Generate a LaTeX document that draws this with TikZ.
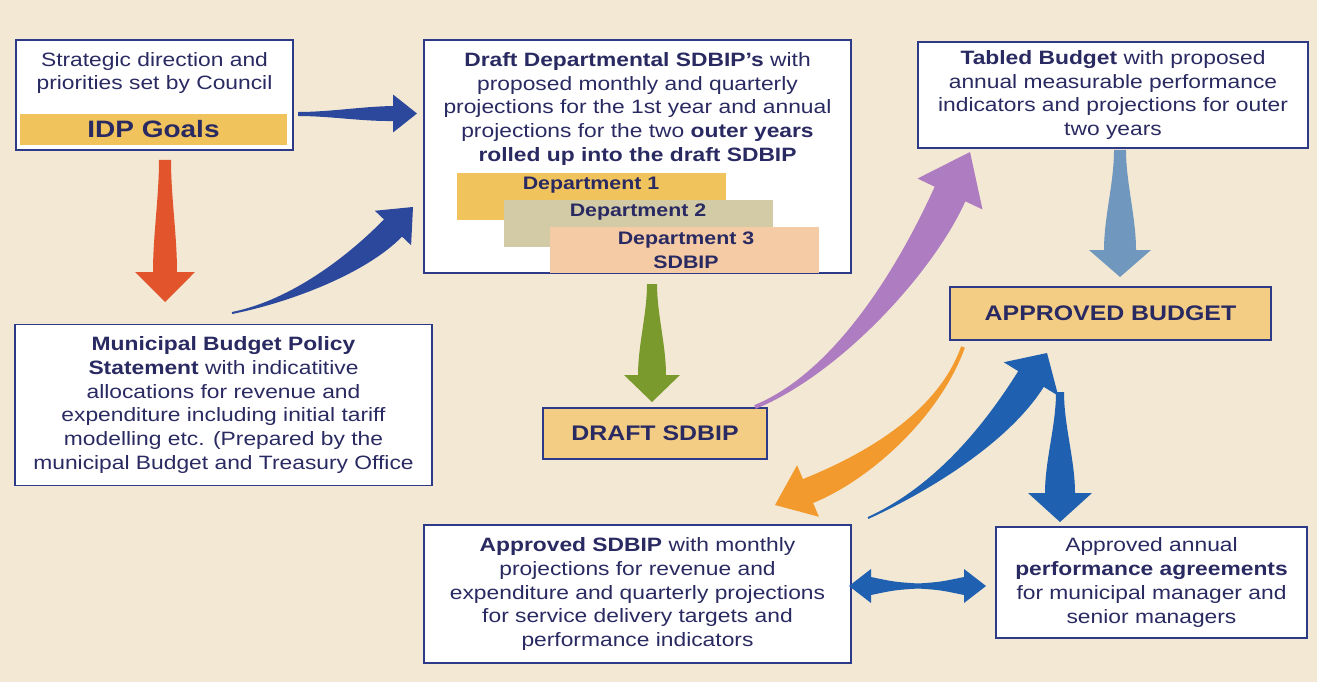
\documentclass[tikz,border=0pt]{standalone}
\usepackage{fontspec}
\setmainfont{Liberation Sans}[FakeStretch=1.18]
\usetikzlibrary{calc}
\definecolor{bg}{HTML}{F3E8D3}
\definecolor{ink}{HTML}{2A2A62}
\definecolor{boxline}{HTML}{2D3A88}
\definecolor{gold}{HTML}{F1C35C}
\definecolor{goldbox}{HTML}{F3CD84}
\definecolor{khaki}{HTML}{D3CAA6}
\definecolor{peach}{HTML}{F5CBA6}
\definecolor{redA}{HTML}{E2542C}
\definecolor{navyA}{HTML}{2B489C}
\definecolor{greenA}{HTML}{7B9A2E}
\definecolor{purpleA}{HTML}{AE7CC0}
\definecolor{steelA}{HTML}{7098BE}
\definecolor{orangeA}{HTML}{F39A2E}
\definecolor{blueB}{HTML}{1F60B0}
% #1 colour, #2 start, #3 ctrl1, #4 ctrl2, #5 neck, #6 tip, #7 half start width, #8 half neck width, #9 half head width
\newcommand\fatarrow[9]{%
  \fill[#1] ($(#2)!#7!90:(#3)$) .. controls ($(#3)!#7!90:(#4)$) and ($(#4)!#8!90:(#5)$) .. ($(#5)!#8!90:(#6)$)
    -- ($(#5)!#9!90:(#6)$) -- (#6) -- ($(#5)!#9!-90:(#6)$) -- ($(#5)!#8!-90:(#6)$)
    .. controls ($(#4)!#8!-90:(#5)$) and ($(#3)!#7!-90:(#4)$) .. ($(#2)!#7!-90:(#3)$) -- cycle;}
\begin{document}
\begin{tikzpicture}[x=0.02cm,y=-0.02cm,
  box/.style={draw=boxline, line width=0.85pt, fill=white, inner sep=0pt},
  txt/.style={text=ink, align=center, inner sep=0pt, font=\fontsize{11}{13.6}\selectfont},
  bigtxt/.style={text=ink, inner sep=0pt, font=\fontsize{12}{14}\selectfont\bfseries},
  depttxt/.style={text=ink, align=center, inner sep=0pt, font=\fontsize{10.3}{13.6}\selectfont\bfseries},
  deptbar/.style={inner sep=0pt, minimum width=5.38cm, minimum height=0.94cm}]
\fill[bg] (0,0) rectangle (1317,682);
\useasboundingbox (0,0) rectangle (1317,682);

% --- boxes ---
\node[box, minimum width=5.54cm, minimum height=2.2cm] (strat) at (154.5,95) {};
\node[txt] (strattxt) at (154.5,73) {Strategic direction and\\priorities set by Council};
\node[fill=gold, inner sep=0pt, minimum width=5.34cm, minimum height=0.62cm, text=ink,
      font=\fontsize{13.5}{16}\selectfont\bfseries] (idp) at (153.5,129.5) {IDP Goals};

\node[box, minimum width=8.54cm, minimum height=4.66cm] (draft) at (637.5,156.5) {};
\node[txt] (drafttxt) at (637.5,109) {\textbf{Draft Departmental SDBIP's} with\\proposed monthly and quarterly\\projections for the 1st year and annual\\projections for the two \textbf{outer years}\\\textbf{rolled up into the draft SDBIP}};
\node[deptbar, fill=gold] (d1) at (591.5,196.5) {};
\node[deptbar, fill=khaki] (d2) at (638.5,223.5) {};
\node[deptbar, fill=peach] (d3) at (684.5,250) {};
\node[depttxt] (d1t) at (591,185) {Department 1};
\node[depttxt] (d2t) at (638,212) {Department 2};
\node[depttxt] (d3t) at (686,250.5) {Department 3\\SDBIP};

\node[box, minimum width=7.8cm, minimum height=2.12cm, txt] (tabled) at (1113,95) {\textbf{Tabled Budget} with proposed\\annual measurable performance\\indicators and projections for outer\\two years};

\node[box, fill=goldbox, minimum width=6.42cm, minimum height=1.06cm, bigtxt] (apbud) at (1110.5,313.5) {APPROVED BUDGET};

\node[box, minimum width=8.34cm, minimum height=3.22cm, txt] (mbps) at (223.5,405) {\textbf{Municipal Budget Policy}\\\textbf{Statement} with indicatitive\\allocations for revenue and\\expenditure including initial tariff\\modelling etc. (Prepared by the\\municipal Budget and Treasury Office};

\node[box, fill=goldbox, minimum width=4.48cm, minimum height=1.02cm, bigtxt] (dsdbip) at (655,433.5) {DRAFT SDBIP};

\node[box, minimum width=8.54cm, minimum height=2.76cm, txt] (apsdbip) at (637.5,594) {\textbf{Approved SDBIP} with monthly\\projections for revenue and\\expenditure and quarterly projections\\for service delivery targets and\\performance indicators};

\node[box, minimum width=6.22cm, minimum height=2.22cm, txt] (perf) at (1151.5,582.5) {Approved annual\\\textbf{performance agreements}\\for municipal manager and\\senior managers};

% --- arrow coordinates ---
% red: strat -> mbps
\coordinate (rS) at (165,160); \coordinate (rC1) at (165,197); \coordinate (rC2) at (165,235);
\coordinate (rN) at (165,272); \coordinate (rT) at (165,302);
% navy straight: strat -> draft
\coordinate (nS) at (298,114); \coordinate (nC1) at (330,114); \coordinate (nC2) at (362,114);
\coordinate (nN) at (393,113.5); \coordinate (nT) at (417,113.5);
% navy curved: mbps -> draft
\coordinate (cS) at (232,313); \coordinate (cC1) at (292,301); \coordinate (cC2) at (358,264);
\coordinate (cN) at (393,228); \coordinate (cT) at (413,207);
% green: draft -> dsdbip
\coordinate (gS) at (652,284); \coordinate (gC1) at (652,314); \coordinate (gC2) at (652,345);
\coordinate (gN) at (652,375); \coordinate (gT) at (652,402);
% purple: dsdbip -> tabled
\coordinate (pS) at (755,407); \coordinate (pC1) at (840,372); \coordinate (pC2) at (918,265);
\coordinate (pN) at (950,194); \coordinate (pT) at (970,152);
% steel: tabled -> apbud
\coordinate (sS) at (1120,150); \coordinate (sC1) at (1120,183); \coordinate (sC2) at (1120,217);
\coordinate (sN) at (1120,250); \coordinate (sT) at (1120,277);
% orange: apbud -> apsdbip
\coordinate (oS) at (963,347); \coordinate (oC1) at (938,417); \coordinate (oC2) at (863,469);
\coordinate (oN) at (808,491); \coordinate (oT) at (775,505);
% blue curved: apsdbip -> apbud
\coordinate (bS) at (868,518); \coordinate (bC1) at (938,486); \coordinate (bC2) at (999,430);
\coordinate (bN) at (1031,379); \coordinate (bT) at (1047,353);
% blue down: apbud -> perf
\coordinate (vS) at (1060,392); \coordinate (vC1) at (1060,426); \coordinate (vC2) at (1060,460);
\coordinate (vN) at (1060,493); \coordinate (vT) at (1060,522);

\fatarrow{redA}{rS}{rC1}{rC2}{rN}{rT}{0.12cm}{0.24cm}{0.6cm}
\fatarrow{navyA}{nS}{nC1}{nC2}{nN}{nT}{0.04cm}{0.15cm}{0.38cm}
\fatarrow{navyA}{cS}{cC1}{cC2}{cN}{cT}{0.02cm}{0.25cm}{0.5cm}
\fatarrow{greenA}{gS}{gC1}{gC2}{gN}{gT}{0.1cm}{0.28cm}{0.56cm}
\fatarrow{purpleA}{pS}{pC1}{pC2}{pN}{pT}{0.04cm}{0.34cm}{0.72cm}
\fatarrow{steelA}{sS}{sC1}{sC2}{sN}{sT}{0.12cm}{0.32cm}{0.62cm}
\fatarrow{orangeA}{oS}{oC1}{oC2}{oN}{oT}{0.04cm}{0.26cm}{0.56cm}
\fatarrow{blueB}{bS}{bC1}{bC2}{bN}{bT}{0.02cm}{0.3cm}{0.64cm}
\fatarrow{blueB}{vS}{vC1}{vC2}{vN}{vT}{0.08cm}{0.3cm}{0.64cm}

% double arrow apsdbip <-> perf
\coordinate (dL) at (849,586); \coordinate (dR) at (986,586);
\fill[blueB] (dL) -- (871,569) -- (871,577) .. controls (895,582) .. (918,583.5)
  .. controls (940,582) .. (964,577) -- (964,569) -- (dR) -- (964,603) -- (964,595)
  .. controls (940,590) .. (918,588.5) .. controls (895,590) .. (871,595) -- (871,603) -- cycle;
\end{tikzpicture}
\end{document}
